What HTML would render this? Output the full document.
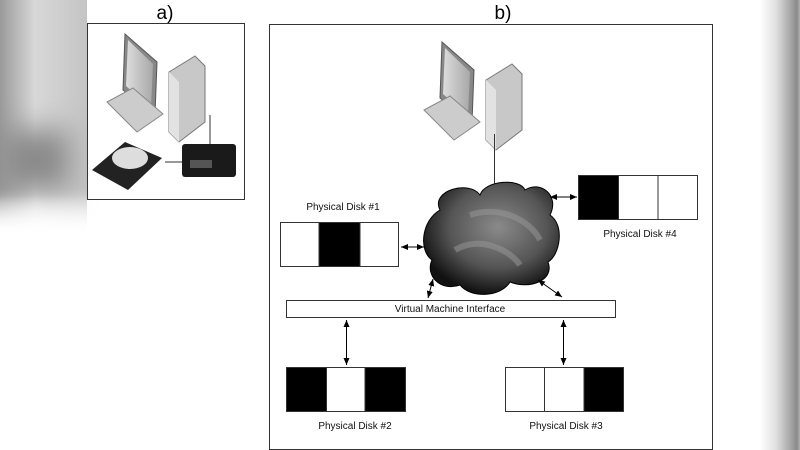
<!DOCTYPE html>
<html><head><style>
body{margin:0;width:800px;height:450px;overflow:hidden;background:#fff;font-family:"Liberation Sans",sans-serif;position:relative}
</style></head><body>
<div style="position:absolute;left:0;top:0;width:87px;height:235px;background:linear-gradient(180deg,rgba(255,255,255,0) 0%,rgba(255,255,255,0) 80%,#fff 100%),linear-gradient(90deg,#9a9a9a,#d8d8d8 40%,#c4c4c4 100%)"></div>
<div style="position:absolute;left:0;top:130px;width:70px;height:60px;background:#8a8a8a;filter:blur(14px)"></div>
<div style="position:absolute;left:0;top:195px;width:87px;height:40px;background:linear-gradient(180deg,rgba(255,255,255,0),#fff)"></div>
<div style="position:absolute;left:760px;top:0;width:40px;height:450px;background:linear-gradient(90deg,#fff,#e0e0e0 40%,#a0a0a0 80%,#8a8a8a 92%,#b0b0b0)"></div>
<svg width="800" height="450" style="position:absolute;left:0;top:0" font-family="Liberation Sans, sans-serif">
<defs>
<marker id="a" markerWidth="8" markerHeight="8" refX="7" refY="4" orient="auto-start-reverse"><path d="M0,1 L7,4 L0,7z" fill="#000"/></marker>
<radialGradient id="cg" cx="55%" cy="40%" r="60%"><stop offset="0" stop-color="#8a8a8a"/><stop offset="0.6" stop-color="#555"/><stop offset="1" stop-color="#111"/></radialGradient>
<linearGradient id="pg" x1="0" x2="1"><stop offset="0" stop-color="#ddd"/><stop offset="1" stop-color="#a8a8a8"/></linearGradient>
</defs>
<text x="165" y="19" font-size="19" text-anchor="middle">a)</text>
<text x="503" y="19" font-size="19" text-anchor="middle">b)</text>
<rect x="87.5" y="23.5" width="157" height="176" fill="#fff" stroke="#333"/>
<rect x="269.5" y="24.5" width="443" height="425" fill="#fff" stroke="#333"/>
<g transform="translate(105,32)">
<polygon points="20,2 52,30 50,82 18,58" fill="#888" stroke="#555"/>
<polygon points="23,8 48,32 46,76 21,54" fill="url(#pg)"/>
<polygon points="2,70 28,56 58,82 32,100" fill="#ccc" stroke="#888"/>
<polygon points="64,40 90,24 100,34 100,90 74,110 64,100" fill="#c8c8c8" stroke="#777"/>
<polygon points="64,40 74,50 74,110 64,100" fill="#e2e2e2"/>
</g>
<line x1="210" y1="115" x2="210" y2="146" stroke="#333"/>
<line x1="165" y1="162" x2="182" y2="162" stroke="#333"/>
<polygon points="92,170 125,142 162,158 128,190" fill="#222"/>
<ellipse cx="130" cy="158" rx="18" ry="11" fill="#ddd"/>
<rect x="182" y="144" width="54" height="33" rx="3" fill="#1a1a1a"/>
<rect x="190" y="160" width="22" height="8" fill="#555"/>
<g transform="translate(422,40)">
<polygon points="20,2 52,30 50,82 18,58" fill="#888" stroke="#555"/>
<polygon points="23,8 48,32 46,76 21,54" fill="url(#pg)"/>
<polygon points="2,70 28,56 58,82 32,100" fill="#ccc" stroke="#888"/>
<polygon points="64,40 90,24 100,34 100,90 74,110 64,100" fill="#c8c8c8" stroke="#777"/>
<polygon points="64,40 74,50 74,110 64,100" fill="#e2e2e2"/>
</g>
<line x1="494.5" y1="134" x2="494.5" y2="192" stroke="#333"/>
<g fill="url(#cg)" stroke="#000" stroke-width="1">
<path d="M440,210 C430,190 470,180 480,195 C485,180 520,178 525,190 C540,180 560,195 550,215 C565,225 560,255 548,262 C555,280 530,290 510,282 C500,298 470,298 460,285 C440,292 425,275 432,260 C418,250 422,220 440,210Z"/>
</g>
<path d="M470,215 C500,205 530,220 540,240 M455,250 C480,235 510,250 520,265" stroke="#999" stroke-width="6" fill="none" opacity=".5"/>
<g stroke="#333" stroke-width="1">
<rect x="280.5" y="222.5" width="118" height="44" fill="#fff"/><rect x="319" y="222.5" width="41" height="44" fill="#000"/>
<rect x="578.5" y="175.5" width="119" height="44" fill="#fff"/><rect x="578.5" y="175.5" width="40" height="44" fill="#000"/><line x1="658" y1="175" x2="658" y2="219"/>
<rect x="286.5" y="367.5" width="119" height="44" fill="#fff"/><rect x="286.5" y="367.5" width="40" height="44" fill="#000"/><rect x="365" y="367.5" width="40.5" height="44" fill="#000"/>
<rect x="505.5" y="367.5" width="118" height="44" fill="#fff"/><line x1="544.5" y1="367" x2="544.5" y2="411"/><rect x="584" y="367.5" width="39.5" height="44" fill="#000"/>
<rect x="286.5" y="300.5" width="329" height="17" fill="#fff"/>
</g>
<g stroke="#000" stroke-width="1" marker-start="url(#a)" marker-end="url(#a)">
<line x1="401" y1="247" x2="424" y2="247"/>
<line x1="550" y1="197" x2="577" y2="197"/>
<line x1="433" y1="279" x2="428" y2="298"/>
<line x1="538" y1="280" x2="562" y2="297"/>
<line x1="346.5" y1="320" x2="346.5" y2="365"/>
<line x1="563.5" y1="320" x2="563.5" y2="365"/>
</g>
<g font-size="10" text-anchor="middle" fill="#111">
<text x="343" y="210">Physical Disk #1</text>
<text x="640" y="237">Physical Disk #4</text>
<text x="450" y="312">Virtual Machine Interface</text>
<text x="355" y="429">Physical Disk #2</text>
<text x="566" y="429">Physical Disk #3</text>
</g>
</svg>
</body></html>
